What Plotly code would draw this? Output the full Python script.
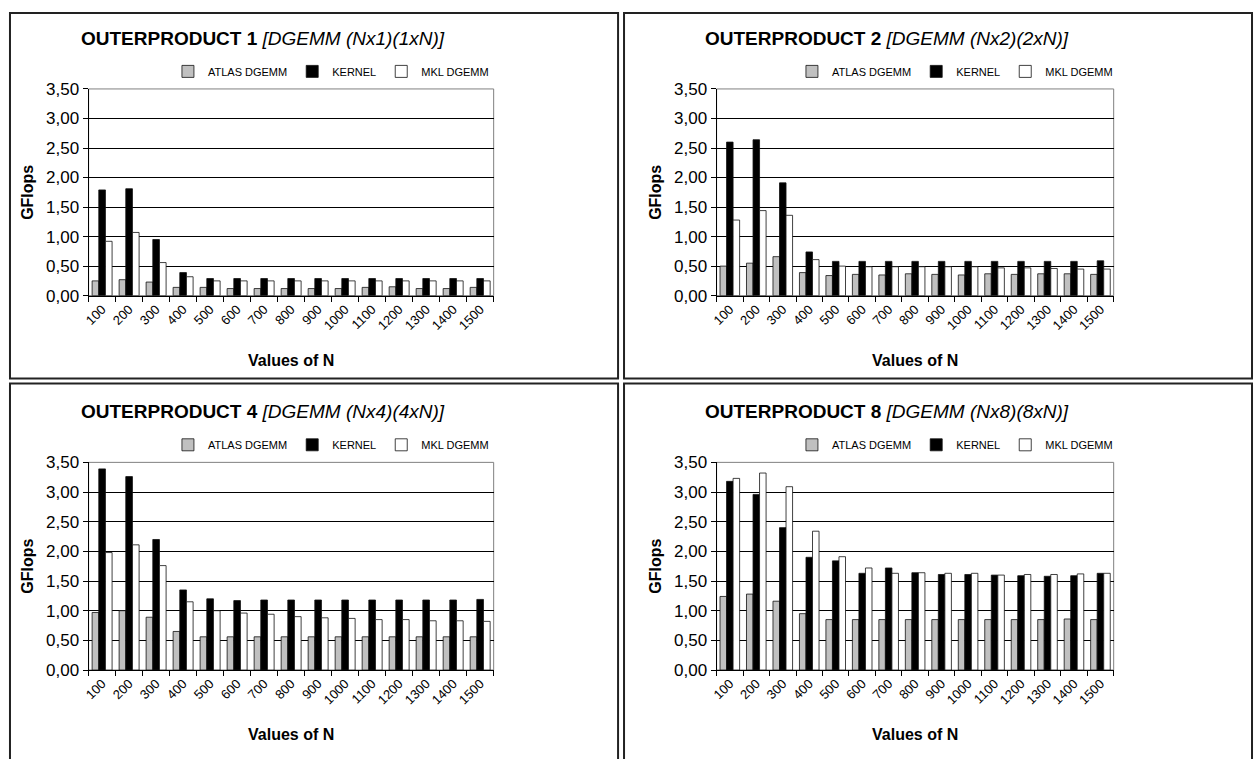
import plotly.graph_objects as go

# ---------------- data ----------------
n_values = ["100", "200", "300", "400", "500", "600", "700", "800",
            "900", "1000", "1100", "1200", "1300", "1400", "1500"]
series_names = ["ATLAS DGEMM", "KERNEL", "MKL DGEMM"]

op1_atlas = [0.25, 0.27, 0.23, 0.14, 0.14, 0.12, 0.12, 0.12, 0.12, 0.12, 0.14, 0.15, 0.12, 0.12, 0.14]
op1_kernel = [1.79, 1.81, 0.95, 0.39, 0.29, 0.29, 0.29, 0.29, 0.29, 0.29, 0.29, 0.29, 0.29, 0.29, 0.29]
op1_mkl = [0.92, 1.07, 0.56, 0.32, 0.25, 0.25, 0.25, 0.25, 0.25, 0.25, 0.25, 0.25, 0.25, 0.25, 0.25]

op2_atlas = [0.50, 0.55, 0.66, 0.39, 0.34, 0.36, 0.35, 0.37, 0.36, 0.35, 0.37, 0.36, 0.37, 0.37, 0.36]
op2_kernel = [2.60, 2.64, 1.91, 0.74, 0.58, 0.58, 0.58, 0.58, 0.58, 0.58, 0.58, 0.58, 0.58, 0.58, 0.59]
op2_mkl = [1.28, 1.44, 1.36, 0.61, 0.50, 0.49, 0.49, 0.49, 0.49, 0.49, 0.47, 0.47, 0.46, 0.45, 0.45]

op4_atlas = [0.97, 1.00, 0.89, 0.65, 0.56, 0.56, 0.56, 0.56, 0.56, 0.56, 0.56, 0.56, 0.56, 0.56, 0.56]
op4_kernel = [3.39, 3.26, 2.20, 1.35, 1.20, 1.17, 1.18, 1.18, 1.18, 1.18, 1.18, 1.18, 1.18, 1.18, 1.19]
op4_mkl = [1.98, 2.11, 1.76, 1.15, 1.00, 0.96, 0.94, 0.90, 0.88, 0.87, 0.85, 0.85, 0.83, 0.83, 0.82]

op8_atlas = [1.24, 1.28, 1.16, 0.95, 0.85, 0.85, 0.85, 0.85, 0.85, 0.85, 0.85, 0.85, 0.85, 0.86, 0.85]
op8_kernel = [3.18, 2.96, 2.40, 1.90, 1.84, 1.63, 1.72, 1.64, 1.61, 1.61, 1.60, 1.59, 1.58, 1.59, 1.63]
op8_mkl = [3.23, 3.32, 3.09, 2.34, 1.91, 1.72, 1.63, 1.64, 1.63, 1.63, 1.60, 1.61, 1.61, 1.62, 1.63]

panel_titles = ["OUTERPRODUCT 1", "OUTERPRODUCT 2", "OUTERPRODUCT 4", "OUTERPRODUCT 8"]
panel_subtitles = ["[DGEMM (Nx1)(1xN)]", "[DGEMM (Nx2)(2xN)]",
                   "[DGEMM (Nx4)(4xN)]", "[DGEMM (Nx8)(8xN)]"]
panel_data = [
    [op1_atlas, op1_kernel, op1_mkl],
    [op2_atlas, op2_kernel, op2_mkl],
    [op4_atlas, op4_kernel, op4_mkl],
    [op8_atlas, op8_kernel, op8_mkl],
]
y_ticks = [0, 0.5, 1.0, 1.5, 2.0, 2.5, 3.0, 3.5]

# ---------------- layout geometry (pixels) ----------------
W, H = 1255, 759
FONT = "Liberation Sans, Arial, sans-serif"
series_colors = ["#c0c0c0", "#000000", "#ffffff"]

# plot areas: (x0, x1, y_top, y_bottom)
plot_px = [(83, 490, 82, 294), (714, 1113, 82, 294),
           (83, 490, 465, 678), (714, 1113, 465, 678)]
# panel frames
box_px = [(4, 615, 4, 379), (621, 1252, 4, 379),
          (4, 615, 384, 800), (621, 1252, 384, 800)]


def fx(x):
    return x / W


def fy(y):
    return 1 - y / H


fig = go.Figure()
layout = dict(
    width=W, height=H,
    margin=dict(l=0, r=0, t=0, b=0),
    paper_bgcolor="white", plot_bgcolor="white",
    barmode="group", bargap=0.26, bargroupgap=0.0,
    separators=",.",
    font=dict(family=FONT, color="black"),
    shapes=[], annotations=[],
)

for i in range(4):
    ax = "" if i == 0 else str(i + 1)
    x0, x1, yt, yb = plot_px[i]
    leg = "legend" if i == 0 else f"legend{i + 1}"
    for s in range(3):
        fig.add_trace(go.Bar(
            x=n_values, y=panel_data[i][s], name=series_names[s],
            marker=dict(color=series_colors[s], line=dict(color="#111111", width=0.8)),
            xaxis="x" + ax, yaxis="y" + ax, legend=leg,
        ))
    layout["xaxis" + ax] = dict(
        domain=[fx(x0), fx(x1)], anchor="y" + ax, type="category",
        showline=True, linecolor="black", linewidth=1,
        ticks="outside", ticklen=5, tickcolor="black", tickson="boundaries",
        tickangle=-45, tickfont=dict(family=FONT, size=13),
        title=dict(text="<b>Values of N</b>", font=dict(family=FONT, size=16), standoff=22),
        showgrid=False, zeroline=False,
    )
    layout["yaxis" + ax] = dict(
        domain=[fy(yb), fy(yt)], anchor="x" + ax, range=[0, 3.5],
        tickvals=y_ticks, tickformat=".2f",
        showline=True, linecolor="black", linewidth=1,
        ticks="outside", ticklen=5, tickcolor="black",
        tickfont=dict(family=FONT, size=17),
        showgrid=True, gridcolor="black", gridwidth=1, zeroline=False,
        title=dict(text="<b>GFlops</b>", font=dict(family=FONT, size=16), standoff=8),
    )
    # grey plot area border on top/right
    layout["shapes"].append(dict(
        type="rect", xref=f"x{ax} domain", yref=f"y{ax} domain",
        x0=0, x1=1, y0=0, y1=1, line=dict(color="#808080", width=1), layer="below"))
    # panel frame
    bx0, bx1, by0, by1 = box_px[i]
    layout["shapes"].append(dict(
        type="rect", xref="paper", yref="paper",
        x0=fx(bx0), x1=fx(bx1), y0=fy(by1), y1=fy(by0),
        line=dict(color="#222222", width=2)))
    # title
    layout["annotations"].append(dict(
        xref="paper", yref="paper", x=fx((x0 + x1) / 2 - 28), y=fy(yt - 52),
        xanchor="center", yanchor="middle", showarrow=False,
        text=f"<b>{panel_titles[i]}</b> <i>{panel_subtitles[i]}</i>",
        font=dict(family=FONT, size=19, color="black")))
    # legend
    layout[leg] = dict(
        orientation="h", x=fx((x0 + x1) / 2 + 40), y=fy(yt - 18),
        xanchor="center", yanchor="middle",
        font=dict(family=FONT, size=11), itemwidth=30,
        bgcolor="rgba(0,0,0,0)", tracegroupgap=0,
    )

fig.update_layout(**layout)
fig.write_html("out.html", config={"displayModeBar": False},
               post_script="document.body.style.margin='0';document.body.style.overflow='hidden';")
